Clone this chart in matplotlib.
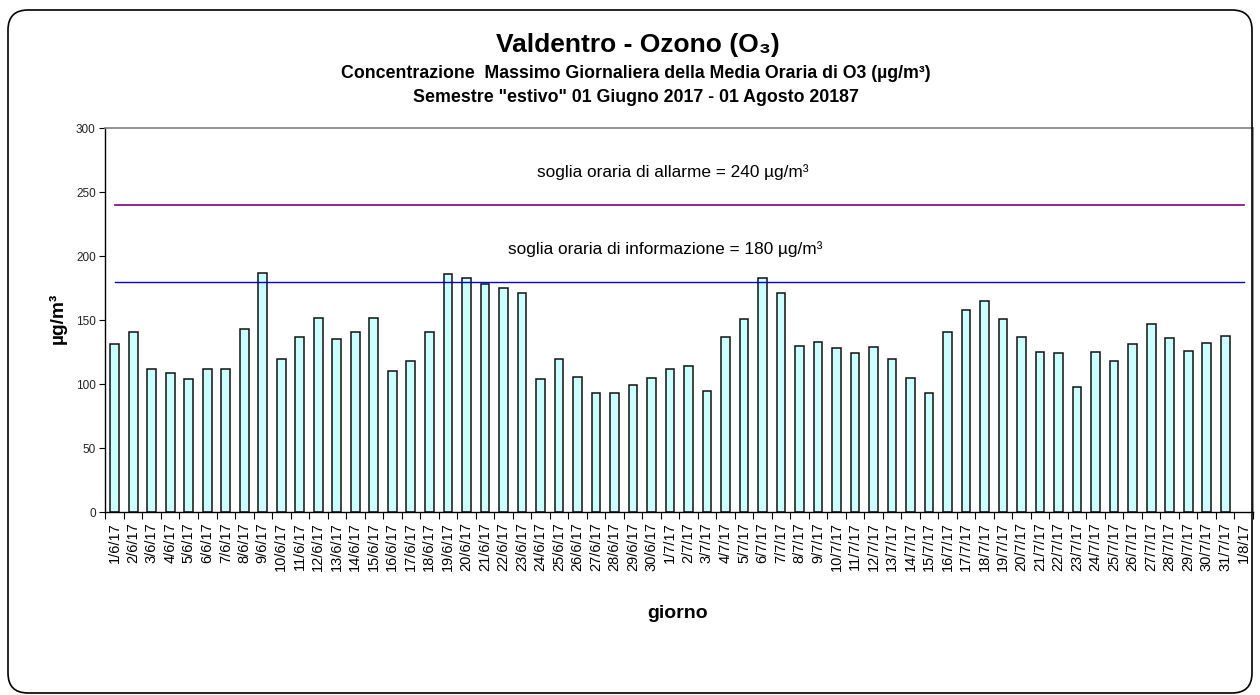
import matplotlib
matplotlib.use("Agg")
import matplotlib.pyplot as plt
import numpy as np
from matplotlib.patches import FancyBboxPatch

plt.rcParams['font.family'] = ['Liberation Sans', 'DejaVu Sans']

days = ["1/6/17", "2/6/17", "3/6/17", "4/6/17", "5/6/17", "6/6/17", "7/6/17", "8/6/17",
        "9/6/17", "10/6/17", "11/6/17", "12/6/17", "13/6/17", "14/6/17", "15/6/17", "16/6/17",
        "17/6/17", "18/6/17", "19/6/17", "20/6/17", "21/6/17", "22/6/17", "23/6/17", "24/6/17",
        "25/6/17", "26/6/17", "27/6/17", "28/6/17", "29/6/17", "30/6/17",
        "1/7/17", "2/7/17", "3/7/17", "4/7/17", "5/7/17", "6/7/17", "7/7/17", "8/7/17",
        "9/7/17", "10/7/17", "11/7/17", "12/7/17", "13/7/17", "14/7/17", "15/7/17", "16/7/17",
        "17/7/17", "18/7/17", "19/7/17", "20/7/17", "21/7/17", "22/7/17", "23/7/17", "24/7/17",
        "25/7/17", "26/7/17", "27/7/17", "28/7/17", "29/7/17", "30/7/17", "31/7/17", "1/8/17"]

ozone = [131, 141, 112, 109, 104, 112, 112, 143, 187, 120, 137, 152, 135, 141, 152, 110,
         118, 141, 186, 183, 178, 175, 171, 104, 120, 106, 93, 93, 99, 105,
         112, 114, 95, 137, 151, 183, 171, 130, 133, 128, 124, 129, 120, 105, 93, 141,
         158, 165, 151, 137, 125, 124, 98, 125, 118, 131, 147, 136, 126, 132, 138, np.nan]

soglia_allarme = 240
soglia_info = 180

fig = plt.figure(figsize=(12.6, 6.95), dpi=100)
ax = fig.add_axes([0.0837, 0.2629, 0.9107, 0.5529])

x = np.arange(len(days))
ax.bar(x, ozone, width=0.47, color='#CCFFFF', edgecolor='#111111', linewidth=1.1, zorder=2)
ax.plot(x, [soglia_allarme] * len(days), color='#800080', linewidth=1.2, zorder=3)
ax.plot(x, [soglia_info] * len(days), color='#0000CC', linewidth=1.0, zorder=3)

ax.set_xlim(-0.5, len(days) - 0.5)
ax.set_ylim(0, 300)
ax.set_yticks(np.arange(0, 301, 50))
ax.tick_params(axis='y', labelsize=8.5, length=4, width=0.8, pad=3, direction='out',
               labelcolor='#222222')

ax.set_xticks(x)
ax.set_xticklabels(days, rotation=90, fontsize=10.5)
ax.set_xticks(np.arange(-0.5, len(days), 1), minor=True)
ax.tick_params(axis='x', which='major', length=0, pad=7)
ax.tick_params(axis='x', which='minor', length=5, width=0.8, direction='out')

for s in ['top', 'right']:
    ax.spines[s].set_color('#808080')
    ax.spines[s].set_linewidth(1.2)
for s in ['left', 'bottom']:
    ax.spines[s].set_color('black')
    ax.spines[s].set_linewidth(1.0)

fig.text(673 / 1260, 1 - 172 / 695, 'soglia oraria di allarme = 240 µg/m³',
         ha='center', va='center', fontsize=12.4)
fig.text(665 / 1260, 1 - 249 / 695, 'soglia oraria di informazione = 180 µg/m³',
         ha='center', va='center', fontsize=12.4)

fig.text(638 / 1260, 1 - 45 / 695, 'Valdentro - Ozono (O₃)', ha='center', va='center',
         fontsize=19, fontweight='bold')
fig.text(636 / 1260, 1 - 73 / 695,
         'Concentrazione  Massimo Giornaliera della Media Oraria di O3 (µg/m³)',
         ha='center', va='center', fontsize=12.8, fontweight='bold')
fig.text(636 / 1260, 1 - 98 / 695,
         'Semestre "estivo" 01 Giugno 2017 - 01 Agosto 20187',
         ha='center', va='center', fontsize=12.8, fontweight='bold')

fig.text(678 / 1260, 1 - 614 / 695, 'giorno', ha='center', va='center',
         fontsize=14, fontweight='bold')
fig.text(58 / 1260, 1 - 318 / 695, 'µg/m³', ha='center', va='center',
         fontsize=13.8, fontweight='bold', rotation=90)

border = FancyBboxPatch((8, 2), 1244, 683, boxstyle="round,pad=0,rounding_size=20",
                        transform=None, facecolor='none', edgecolor='black', linewidth=1.2)
fig.patches.append(border)

fig.savefig('out.png', dpi=100)
